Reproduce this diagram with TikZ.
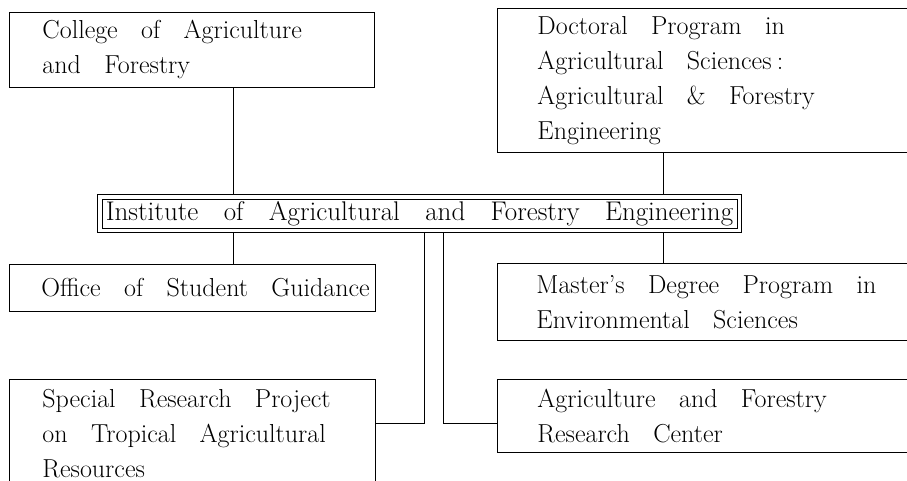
\documentclass[tikz,border=0pt]{standalone}
\usetikzlibrary{positioning}
\newcommand{\unitfont}{\fontsize{26}{35}\selectfont}
\newcommand{\instfont}{\fontsize{27}{30}\selectfont\spaceskip=0.94em\relax}

\begin{document}
\begin{tikzpicture}[x=1pt, y=-1pt, line width=0.9pt,
    orgbox/.style={draw, align=left, inner xsep=0pt, inner ysep=0pt, font=\unitfont,
      execute at begin node={\leftskip=#1\spaceskip=0.9em\relax}},
    orgbox/.default=33pt]
  \useasboundingbox (0,0) rectangle (907,481);
  \clip (0,0) rectangle (907,481);

  \node[draw, inner sep=0pt, minimum width=635pt, minimum height=29pt, font=\instfont] (institute) at (419.5,213.5) {Institute of Agricultural and Forestry Engineering};
  \draw ([shift={(-4pt,-4pt)}]institute.south west) rectangle ([shift={(4pt,4pt)}]institute.north east);
  \node[orgbox, text width=365pt, minimum height=75pt, anchor=north west] (college) at (9,12) {College of Agriculture\\and Forestry};
  \node[orgbox=40pt, text width=440pt, minimum height=144pt, anchor=north west] (doctoral) at (497,8) {Doctoral Program in\\Agricultural Sciences\hspace{0.2em}:\\Agricultural \& Forestry\\Engineering};
  \node[orgbox=32pt, text width=366pt, minimum height=47pt, below=176pt of college.south west, anchor=north west] (office) {Office of Student Guidance};
  \node[orgbox, text width=366pt, minimum height=108pt, below=67pt of office.south west, anchor=north west] (special) {Special Research Project\\on Tropical Agricultural\\Resources};
  \node[orgbox=39pt, text width=440pt, minimum height=77pt, below=110pt of doctoral.south west, anchor=north west] (master) {Master's Degree Program in\\Environmental Sciences};
  \node[orgbox=40pt, text width=440pt, minimum height=73pt, below=38pt of master.south west, anchor=north west] (center) {Agriculture and Forestry\\Research Center};

  \coordinate (lx) at (233,0);
  \coordinate (rx) at (663,0);
  \coordinate (sx) at (424,0);
  \coordinate (ax) at (443,0);
  \coordinate (hy) at (0,423);

  \draw[shorten >=4pt] (college.south -| lx) -- (institute.north -| lx);
  \draw[shorten >=4pt] (doctoral.south -| rx) -- (institute.north -| rx);
  \draw[shorten <=4pt] (institute.south -| lx) -- (office.north -| lx);
  \draw[shorten <=4pt] (institute.south -| rx) -- (master.north -| rx);
  \draw[shorten <=4pt] (institute.south -| sx) |- (special.east |- hy);
  \draw[shorten <=4pt] (institute.south -| ax) |- (center.west |- hy);
\end{tikzpicture}
\end{document}
